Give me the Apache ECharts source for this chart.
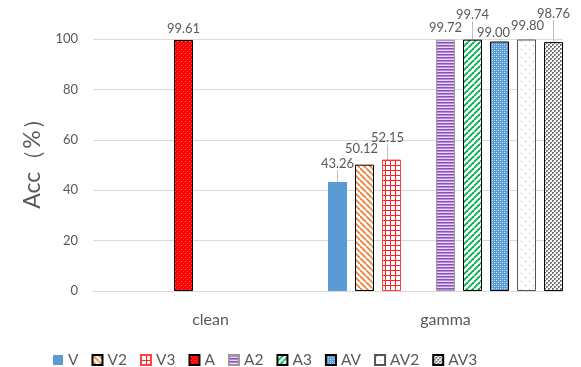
<!DOCTYPE html>
<html>
<head>
<meta charset="utf-8">
<script src="https://cdn.jsdelivr.net/npm/echarts@6/dist/echarts.min.js"></script>
<style>
  html, body { margin: 0; padding: 0; background: #fff; }
  #chart { width: 581px; height: 367px; }
</style>
</head>
<body>
<div id="chart"></div>
<script>
// Accuracy by condition and model variant
const categories = ['clean', 'gamma'];
const seriesNames = ['V', 'V2', 'V3', 'A', 'A2', 'A3', 'AV', 'AV2', 'AV3'];
const V   = [null, 43.26];
const V2  = [null, 50.12];
const V3  = [null, 52.15];
const A   = [99.61, null];
const A2  = [null, 99.72];
const A3  = [null, 99.74];
const AV  = [null, 99.00];
const AV2 = [null, 99.80];
const AV3 = [null, 98.76];
const yTicks = [0, 20, 40, 60, 80, 100];

const values = [V, V2, V3, A, A2, A3, AV, AV2, AV3];

// --- fill patterns -------------------------------------------------------
function tile(w, h, draw) {
  const c = document.createElement('canvas');
  c.width = w; c.height = h;
  const g = c.getContext('2d');
  draw(g, w, h);
  return { image: c, repeat: 'repeat' };
}
const solid = '#5B9BD5';
const pattV2 = tile(6, 6, (g, w, h) => {
  g.fillStyle = '#fff'; g.fillRect(0, 0, w, h);
  g.strokeStyle = '#ED7D31'; g.lineWidth = 1.6;
  for (let k = -1; k <= 1; k++) {
    g.beginPath(); g.moveTo(k * w, 0); g.lineTo(k * w + w, h); g.stroke();
  }
});
const pattV3 = tile(5, 5, (g, w, h) => {
  g.fillStyle = '#fff'; g.fillRect(0, 0, w, h);
  g.fillStyle = '#FF2020';
  g.fillRect(0, 0, w, 1); g.fillRect(0, 0, 1, h);
});
const pattA = tile(4, 4, (g, w, h) => {
  g.fillStyle = '#FF0000'; g.fillRect(0, 0, w, h);
  g.fillStyle = '#FF8080'; g.fillRect(1, 1, 1, 1);
  g.fillStyle = '#FF5050'; g.fillRect(3, 3, 1, 1);
});
const pattA2 = tile(4, 3, (g, w, h) => {
  g.fillStyle = '#E6D6F2'; g.fillRect(0, 0, w, h);
  g.fillStyle = '#8A50BE'; g.fillRect(0, 0, w, 1);
  g.fillStyle = '#B48CD8'; g.fillRect(0, 1, w, 1);
});
const pattA3 = tile(6, 6, (g, w, h) => {
  g.fillStyle = '#fff'; g.fillRect(0, 0, w, h);
  g.strokeStyle = '#00B050'; g.lineWidth = 1.8;
  for (let k = -1; k <= 1; k++) {
    g.beginPath(); g.moveTo(k * w, h); g.lineTo(k * w + w, 0); g.stroke();
  }
});
const pattAV = tile(4, 4, (g, w, h) => {
  g.fillStyle = '#5B9BD5'; g.fillRect(0, 0, w, h);
  g.fillStyle = '#DCEBF8'; g.fillRect(0, 0, 1, 1); g.fillRect(2, 2, 1, 1);
  g.fillStyle = '#9CC3E6'; g.fillRect(2, 0, 1, 1); g.fillRect(0, 2, 1, 1);
});
const pattAV2 = tile(8, 8, (g, w, h) => {
  g.fillStyle = '#fff'; g.fillRect(0, 0, w, h);
  g.fillStyle = '#E9A070'; g.fillRect(1, 1, 1, 1); g.fillRect(5, 5, 1, 1);
});
const pattAV3 = tile(4, 4, (g, w, h) => {
  g.fillStyle = '#fff'; g.fillRect(0, 0, w, h);
  g.fillStyle = '#6E6E6E';
  g.fillRect(0, 0, 2, 2); g.fillRect(2, 2, 2, 2);
  g.fillStyle = '#C8C8C8';
  g.fillRect(1, 1, 1, 1); g.fillRect(3, 3, 1, 1);
});

const fills = [solid, pattV2, pattV3, pattA, pattA2, pattA3, pattAV, pattAV2, pattAV3];
const borders = ['#5B9BD5', '#000', '#FF4040', '#000', '#9A9A9A', '#000', '#000', '#555', '#000'];

// label nudges for the crowded gamma group: [dx, dy, leader line]
const nudges = {
  'V|1':   [0, -7, true],
  'V2|1':  [-3, -4, false],
  'V3|1':  [-4, -10, true],
  'A3|1':  [0, -13, true],
  'AV|1':  [-6, 3, false],
  'AV2|1': [1, -2, false],
  'AV3|1': [0, -17, true]
};

const textColor = '#595959';
const font = 'Lato, "Liberation Sans", sans-serif';

const series = seriesNames.map((name, i) => ({
  name,
  type: 'bar',
  data: values[i].map((v, j) => {
    if (v == null) return null;
    const n = nudges[name + '|' + j];
    return {
      value: v,
      labelLine: { show: !!(n && n[2]) }
    };
  }),
  barGap: '42%',
  barCategoryGap: '0%',
  itemStyle: { color: fills[i], borderColor: borders[i], borderWidth: i === 0 ? 0 : 1 },
  label: {
    show: true,
    position: 'top',
    distance: 5,
    color: textColor,
    fontSize: 13,
    fontFamily: font,
    formatter: p => p.value.toFixed(2)
  },
  labelLine: { show: false, lineStyle: { color: '#BFBFBF', width: 1 } },
  labelLayout: p => {
    const n = nudges[name + '|' + p.dataIndex];
    return n ? { dx: n[0], dy: n[1] } : {};
  }
}));

const chart = echarts.init(document.getElementById('chart'), null, { renderer: 'canvas' });
chart.setOption({
  animation: false,
  backgroundColor: '#fff',
  textStyle: { fontFamily: font },
  grid: { left: 93, right: 18, top: 39, bottom: 76, containLabel: false },
  legend: {
    data: seriesNames,
    left: 48,
    top: 347,
    icon: 'rect',
    itemWidth: 10,
    itemHeight: 10,
    itemGap: 13,
    textStyle: { color: textColor, fontSize: 15.5, fontFamily: font }
  },
  xAxis: {
    type: 'category',
    data: categories,
    axisLine: { lineStyle: { color: '#D9D9D9' } },
    axisTick: { show: false },
    axisLabel: { color: textColor, fontSize: 16, margin: 21, fontFamily: font }
  },
  yAxis: {
    type: 'value',
    min: yTicks[0],
    max: yTicks[yTicks.length - 1],
    interval: yTicks[1] - yTicks[0],
    name: 'Acc（%）',
    nameLocation: 'middle',
    nameGap: 38,
    nameTextStyle: { color: textColor, fontSize: 23, fontFamily: font, padding: [0, 0, 0, 14] },
    axisLine: { show: false },
    axisTick: { show: false },
    splitLine: { lineStyle: { color: '#D9D9D9' } },
    axisLabel: { color: textColor, fontSize: 13, margin: 15, fontFamily: font }
  },
  series
});
</script>
</body>
</html>
